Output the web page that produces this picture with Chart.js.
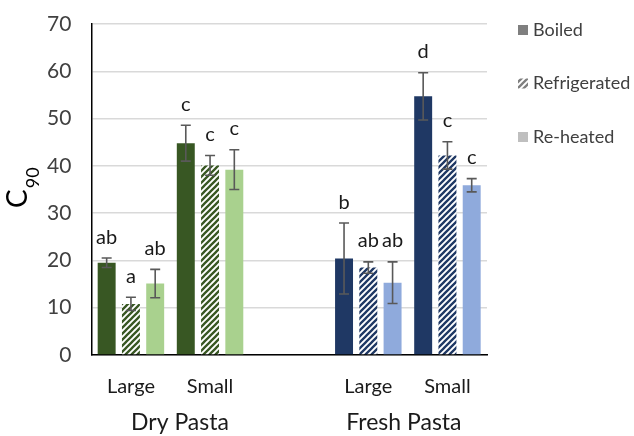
<!DOCTYPE html>
<html>
<head>
<meta charset="utf-8">
<script src="https://cdn.jsdelivr.net/npm/chart.js@4.4.1/dist/chart.umd.min.js"></script>
<style>
html,body{margin:0;padding:0;background:#fff;}
#wrap{width:634px;height:436px;}
</style>
</head>
<body>
<div id="wrap"><canvas id="c"></canvas></div>
<script>
const categories = ['Large', 'Small', '', 'Large', 'Small'];
const groupLabels = ['Dry Pasta', 'Fresh Pasta'];
const seriesNames = ['Boiled', 'Refrigerated', 'Re-heated'];
const boiled = [19.5, 44.8, null, 20.4, 54.7];
const refrigerated = [10.8, 40.1, null, 18.5, 42.2];
const reheated = [15.1, 39.2, null, 15.3, 35.9];
const boiledErr = [1.0, 3.8, null, 7.5, 5.0];
const refrigeratedErr = [1.4, 2.1, null, 1.2, 2.9];
const reheatedErr = [3.0, 4.2, null, 4.4, 1.4];
const boiledSig = ['ab', 'c', '', 'b', 'd'];
const refrigeratedSig = ['a', 'c', '', 'ab', 'c'];
const reheatedSig = ['ab', 'c', '', 'ab', 'c'];
const yTicks = [0, 10, 20, 30, 40, 50, 60, 70];

const FONT = 'Lato';
const green = {dark: '#385723', light: '#a9d18e'};
const blue = {dark: '#1f3864', light: '#8faadc'};

function hatch(color) {
  const c = document.createElement('canvas');
  c.width = 6; c.height = 6;
  const g = c.getContext('2d');
  g.fillStyle = '#ffffff'; g.fillRect(0, 0, 6, 6);
  g.strokeStyle = color; g.lineWidth = 2.3;
  g.beginPath();
  g.moveTo(-1, 7); g.lineTo(7, -1);
  g.moveTo(-1, 1); g.lineTo(1, -1);
  g.moveTo(5, 7); g.lineTo(7, 5);
  g.stroke();
  return g.createPattern(c, 'repeat');
}

const perCat = (d, f) => categories.map((_, i) => i < 2 ? d : f);

const datasets = [
  {label: seriesNames[0], data: boiled, err: boiledErr, sig: boiledSig,
   backgroundColor: perCat(green.dark, blue.dark), legendColor: '#7f7f7f'},
  {label: seriesNames[1], data: refrigerated, err: refrigeratedErr, sig: refrigeratedSig,
   backgroundColor: perCat(hatch(green.dark), hatch(blue.dark)), legendColor: hatch('#7f7f7f')},
  {label: seriesNames[2], data: reheated, err: reheatedErr, sig: reheatedSig,
   backgroundColor: perCat(green.light, blue.light), legendColor: '#bfbfbf'}
];

const extras = {
  id: 'extras',
  afterDatasetsDraw(chart) {
    const ctx = chart.ctx;
    const y = chart.scales.y;
    const area = chart.chartArea;
    ctx.save();
    chart.data.datasets.forEach((ds, di) => {
      const meta = chart.getDatasetMeta(di);
      meta.data.forEach((bar, i) => {
        const v = ds.data[i];
        if (v == null) return;
        const e = ds.err[i];
        const x = bar.x;
        const top = y.getPixelForValue(v + e);
        const bot = y.getPixelForValue(v - e);
        ctx.strokeStyle = '#595959';
        ctx.lineWidth = 1.6;
        ctx.beginPath();
        ctx.moveTo(x, top); ctx.lineTo(x, bot);
        ctx.moveTo(x - 5, top); ctx.lineTo(x + 5, top);
        ctx.moveTo(x - 5, bot); ctx.lineTo(x + 5, bot);
        ctx.stroke();
        ctx.fillStyle = '#1a1a1a';
        ctx.font = '20px ' + FONT;
        ctx.textAlign = 'center';
        ctx.textBaseline = 'middle';
        ctx.fillText(ds.sig[i], x, top - 21);
      });
    });
    // group labels
    const x = chart.scales.x;
    ctx.fillStyle = '#1a1a1a';
    ctx.font = '23px ' + FONT;
    ctx.textAlign = 'center';
    ctx.textBaseline = 'middle';
    ctx.fillText(groupLabels[0], x.getPixelForValue(0.62), 423);
    ctx.fillText(groupLabels[1], x.getPixelForValue(3.45), 423);
    // legend
    chart.data.datasets.forEach((ds, i) => {
      const ly = area.top + 6 + i * 53.5;
      const lx = area.right + 31;
      ctx.fillStyle = ds.legendColor;
      ctx.fillRect(lx, ly - 5, 10, 10);
      ctx.fillStyle = '#404040';
      ctx.font = '18px ' + FONT;
      ctx.textAlign = 'left';
      ctx.textBaseline = 'middle';
      ctx.fillText(ds.label, lx + 15, ly);
    });
    // y title
    ctx.save();
    ctx.translate(27, 208);
    ctx.rotate(-Math.PI / 2);
    ctx.textAlign = 'left';
    ctx.textBaseline = 'alphabetic';
    ctx.fillStyle = '#000000';
    ctx.font = '28px ' + FONT;
    const cw = ctx.measureText('C').width;
    ctx.fillText('C', 0, 0);
    ctx.font = '18px ' + FONT;
    ctx.fillText('90', cw + 1, 12);
    ctx.restore();
    ctx.restore();
  }
};

new Chart(document.getElementById('c'), {
  type: 'bar',
  data: {labels: categories, datasets},
  options: {
    responsive: true,
    maintainAspectRatio: false,
    animation: false,
    layout: {padding: {left: 43, top: 24, bottom: 17, right: 147}},
    datasets: {bar: {categoryPercentage: 0.92, barPercentage: 0.74}},
    plugins: {
      tooltip: {enabled: false},
      legend: {display: false}
    },
    scales: {
      x: {
        grid: {display: false, drawTicks: false},
        border: {color: '#000000', width: 1.5},
        ticks: {font: {family: FONT, size: 20}, color: '#1a1a1a', padding: 20}
      },
      y: {
        min: 0, max: 70,
        afterBuildTicks(s) { s.ticks = yTicks.map(v => ({value: v})); },
        grid: {color: '#d9d9d9', lineWidth: 1.5, drawTicks: true, tickLength: 16, tickColor: 'rgba(0,0,0,0)'},
        border: {color: '#000000', width: 1.5},
        ticks: {font: {family: FONT, size: 21}, color: '#404040', padding: 4}
      }
    }
  },
  plugins: [extras]
});
</script>
</body>
</html>
